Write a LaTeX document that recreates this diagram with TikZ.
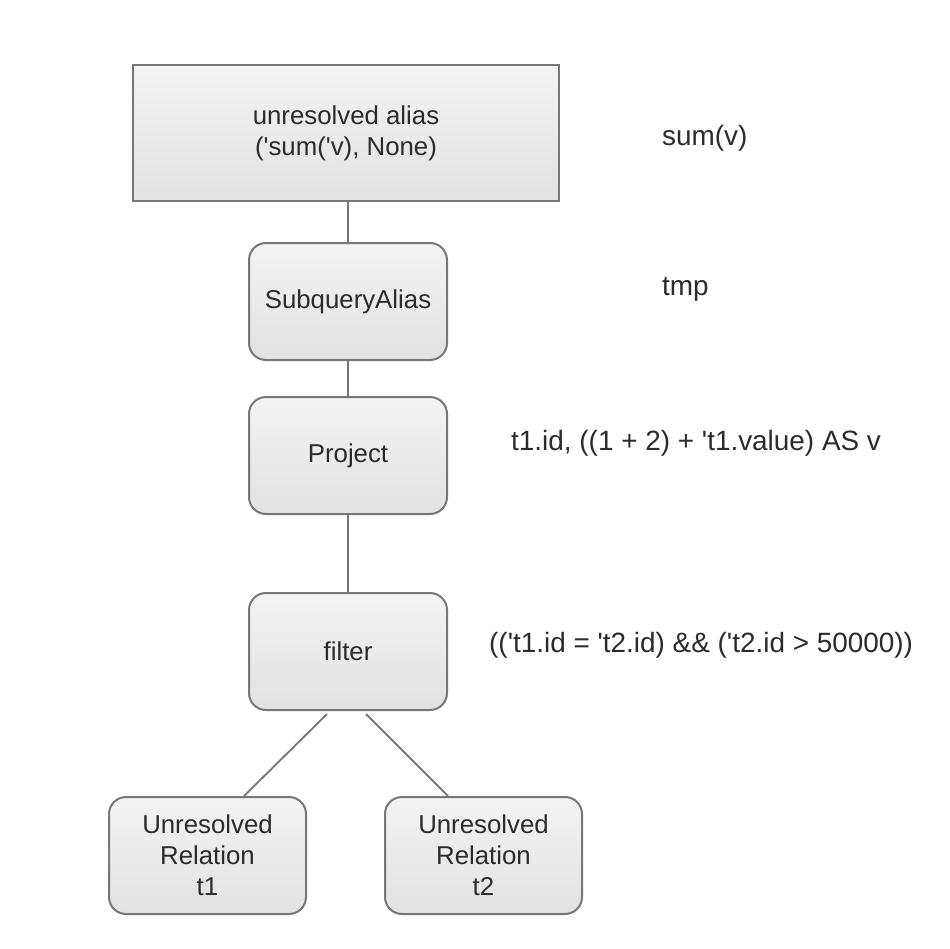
\documentclass[tikz,border=0pt]{standalone}
\usepackage{fontspec}
\setmainfont{Liberation Sans}
\usetikzlibrary{calc}
\definecolor{txt}{HTML}{2B2B2B}
\definecolor{edge}{HTML}{777777}
\definecolor{topc}{HTML}{F3F3F3}
\definecolor{botc}{HTML}{E2E2E2}
\newcommand{\sq}{\textquotesingle}
\tikzset{
  box/.style={draw=edge, line width=2pt, top color=topc, bottom color=botc,
    text=txt, align=center, inner sep=0pt,
    font=\fontsize{25.8}{31}\selectfont},
  rbox/.style={box, rounded corners=17pt, minimum width=198pt, minimum height=117pt},
  lbl/.style={anchor=base west, text=txt, inner sep=0pt, font=\fontsize{27.9}{31}\selectfont},
  conn/.style={draw=edge, line width=1.8pt}
}
\begin{document}
\begin{tikzpicture}[x=1pt,y=-1pt]
\useasboundingbox (0,0) rectangle (950,948);
\node[box, minimum width=426pt, minimum height=136pt] (top) at (346,133) {unresolved alias\\(\sq sum(\sq v), None)};
\node[rbox] (sub) at (348,301.5) {SubqueryAlias};
\node[rbox] (proj) at (348,455.5) {Project};
\node[rbox] (filter) at (348,651.5) {filter};
\node[rbox, minimum width=197pt] (t1) at (207.5,855.5) {Unresolved\\Relation\\t1};
\node[rbox, minimum width=197pt] (t2) at (483.5,855.5) {Unresolved\\Relation\\t2};

\node[lbl] (l1) at (662,145) {sum(v)};
\node[lbl] (l2) at (662,295) {tmp};
\node[lbl] (l3) at (511,450) {t1.id, ((1 + 2) + \sq t1.value) AS v};
\node[lbl] (l4) at (489,652) {((\sq t1.id = \sq t2.id) \&\& (\sq t2.id > 50000))};

\draw[conn] (sub.north) -- (sub.north |- top.south);
\draw[conn] (proj.north) -- (proj.north |- sub.south);
\draw[conn] (filter.north) -- (filter.north |- proj.south);
\coordinate (f1) at ($(filter.south)+(-21,3)$);
\coordinate (f2) at ($(filter.south)+(18,3)$);
\draw[conn] (f1) -- ($(t1.north)+(36.5,0)$);
\draw[conn] (f2) -- ($(t2.north)+(-35.5,0)$);
\end{tikzpicture}
\end{document}
